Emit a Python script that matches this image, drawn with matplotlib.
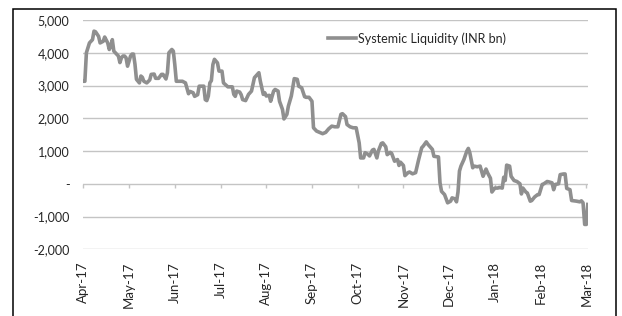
import matplotlib
matplotlib.use("Agg")
import matplotlib.pyplot as plt
import numpy as np
import pandas as pd
from matplotlib.patches import Rectangle
from matplotlib.ticker import FuncFormatter

# systemic liquidity (INR bn)
start = "2017-04-01"
days = [0, 1, 2, 4, 6, 7, 8, 10, 11, 13,
        14, 16, 17, 18, 19, 20, 21, 23, 24, 25,
        26, 27, 28, 29, 31, 32, 33, 34, 35, 37,
        38, 39, 40, 42, 44, 45, 47, 48, 50, 51,
        52, 53, 55, 56, 57, 59, 60, 61, 62, 64,
        66, 68, 70, 71, 73, 74, 76, 77, 80, 81,
        82, 83, 84, 85, 86, 87, 89, 90, 92, 93,
        95, 96, 99, 100, 101, 102, 104, 105, 106, 108,
        110, 112, 114, 117, 118, 120, 121, 122, 124, 125,
        127, 128, 130, 131, 133, 134, 136, 137, 139, 141,
        143, 144, 146, 148, 149, 151, 153, 154, 156, 158,
        160, 162, 164, 166, 168, 170, 172, 173, 175, 176,
        178, 180, 182, 184, 185, 187, 188, 190, 191, 193,
        194, 196, 197, 199, 200, 202, 203, 205, 206, 208,
        210, 211, 212, 214, 215, 217, 218, 220, 222, 223,
        224, 226, 227, 229, 230, 232, 233, 234, 237, 238,
        239, 241, 243, 245, 246, 248, 249, 250, 251, 252,
        254, 256, 257, 258, 260, 261, 263, 265, 266, 267,
        269, 270, 272, 273, 275, 277, 278, 280, 281, 282,
        283, 285, 286, 288, 290, 292, 293, 294, 296, 297,
        299, 300, 302, 304, 305, 307, 308, 310, 311, 313,
        314, 315, 317, 318, 320, 321, 322, 324, 325, 328,
        330, 331, 332, 333, 334, 335]
liquidity = [3130, 3130, 4000, 4300, 4400, 4660, 4640, 4500, 4300, 4350,
             4480, 4300, 4100, 4200, 4400, 4050, 4000, 3900, 3700, 3850,
             3900, 3900, 3850, 3590, 3900, 3960, 3960, 3650, 3190, 3080,
             3290, 3250, 3130, 3080, 3170, 3340, 3350, 3220, 3220, 3280,
             3340, 3340, 3200, 3390, 4000, 4100, 4050, 3640, 3130, 3130,
             3130, 3080, 2750, 2820, 2780, 2670, 2720, 2980, 2980, 2570,
             2540, 2680, 3080, 3150, 3640, 3800, 3690, 3440, 3440, 3080,
             3000, 2960, 2960, 2730, 2670, 2830, 2800, 2720, 2570, 2540,
             2730, 2830, 3240, 3390, 3130, 2730, 2780, 2680, 2700, 2520,
             2830, 2880, 2830, 2520, 2270, 1980, 2120, 2370, 2680, 3210,
             3190, 2980, 2930, 2660, 2640, 2640, 2520, 1710, 1610, 1570,
             1530, 1570, 1680, 1760, 1740, 1740, 2120, 2140, 2050, 1810,
             1740, 1710, 1710, 1250, 790, 790, 950, 900, 850, 1030,
             1050, 790, 1000, 1230, 1250, 1130, 890, 960, 930, 690,
             740, 560, 660, 560, 250, 340, 360, 305, 340, 540,
             740, 1100, 1150, 1280, 1210, 1100, 1050, 840, 820, 30,
             -230, -330, -580, -530, -430, -460, -550, -250, 390, 540,
             740, 1000, 1080, 950, 490, 540, 520, 540, 380, 230,
             450, 340, 170, -250, -130, -130, -110, -130, 200, 100,
             570, 540, 230, 100, 70, 0, -310, -130, -250, -280,
             -530, -510, -400, -330, -330, -20, 0, 70, 60, 30,
             -180, -20, 0, 280, 300, 300, -140, -180, -510, -530,
             -550, -520, -580, -1240, -1240, -630]
month_labels = ["Apr-17", "May-17", "Jun-17", "Jul-17", "Aug-17", "Sep-17",
                "Oct-17", "Nov-17", "Dec-17", "Jan-18", "Feb-18", "Mar-18"]
y_ticks = [5000, 4000, 3000, 2000, 1000, 0, -1000, -2000]

# months evenly spaced like the excel axis
dates = pd.Timestamp(start) + pd.to_timedelta(days, unit="D")
xpos = np.asarray((dates.year - 2017) * 12 + dates.month - 4
                  + (dates.day - 1) / dates.days_in_month, dtype=float)

plt.rcParams['font.family'] = ['Lato', 'DejaVu Sans']

fig = plt.figure(figsize=(6.22, 3.16), dpi=100)
fig.patches.append(Rectangle((0.0204, -0.05), 0.9696, 1.0215, transform=fig.transFigure,
                             fill=False, edgecolor='black', linewidth=1.1))

ax = fig.add_axes([0.134, 0.211, 0.811, 0.7257])
ymin, ymax = -2000, 5000
ax.set_ylim(ymin, ymax)
ax.set_xlim(0, float(xpos[-1]))

# gridlines first, then the series on top
for v in y_ticks:
    ax.axhline(v, color='#c4c4c4', linewidth=1.0, zorder=1)
ax.plot(xpos, liquidity, color='#8f8f8f', linewidth=2.6, solid_joinstyle='round',
        label='Systemic Liquidity (INR bn)', zorder=3)

ax.set_yticks(y_ticks)
ax.yaxis.set_major_formatter(FuncFormatter(lambda v, p: '-' if v == 0 else f'{v:,.0f}'))
ax.tick_params(axis='y', length=0, pad=10, labelsize=9, labelcolor='#262626')

# month labels at the bottom of the plot
ax.set_xticks(range(len(month_labels)))
ax.set_xticklabels(month_labels, rotation=90)
ax.tick_params(axis='x', length=0, pad=9, labelsize=9.5, labelcolor='#262626')
for s in ax.spines.values():
    s.set_visible(False)

# small tick marks on the zero line
zero_frac = (0 - ymin) / (ymax - ymin)
sec = ax.secondary_xaxis(zero_frac)
sec.set_xticks(range(len(month_labels)))
sec.set_xticklabels([])
sec.tick_params(axis='x', direction='out', length=3, color='#c4c4c4', width=1.0)
for s in sec.spines.values():
    s.set_visible(False)

ax.legend(loc='center left', bbox_to_anchor=(0.485, 0.92), frameon=False,
          fontsize=9, handlelength=2.2, handletextpad=0.2, borderpad=0,
          borderaxespad=0, labelcolor='#262626')

fig.savefig('out.png', dpi=100, facecolor='white')
